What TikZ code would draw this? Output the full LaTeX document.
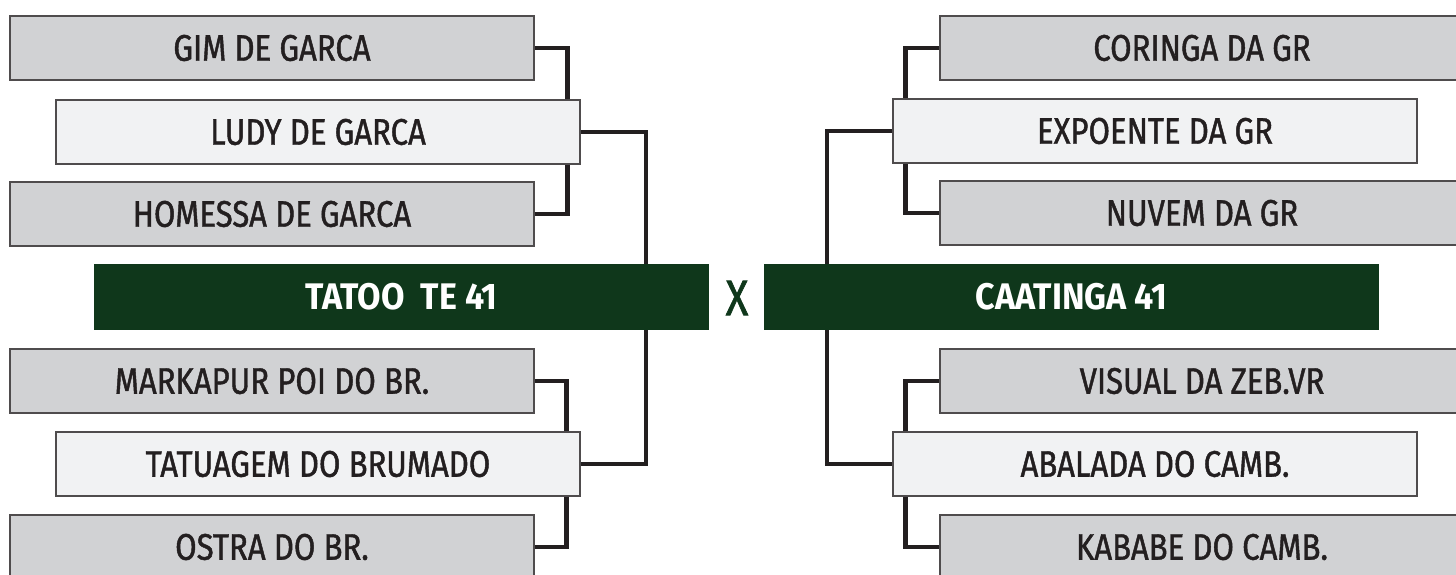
\documentclass[tikz,border=0pt]{standalone}
\usepackage{fontspec}
\setmainfont{Fira Sans}[FakeStretch=0.84, UprightFeatures={FakeBold=1.2}, BoldFeatures={FakeStretch=0.92}]
\usetikzlibrary{positioning, backgrounds}
\definecolor{boxgray}{HTML}{D1D2D4}
\definecolor{boxlight}{HTML}{F1F2F3}
\definecolor{bargreen}{HTML}{0F371B}
\definecolor{inkdark}{HTML}{231F20}

\begin{document}
\begin{tikzpicture}[
            x=1pt, y=-1pt,
            entry/.style = {rectangle, draw=inkdark!80, line width=1.1pt, fill=boxgray, minimum width=524pt, minimum height=64pt, inner sep=0pt, text=inkdark, font=\fontsize{37}{40}\selectfont},
            seed/.style = {entry, fill=boxlight},
            final/.style = {rectangle, fill=bargreen, minimum width=615pt, minimum height=66pt, inner sep=0pt, text=white, font=\fontsize{37}{40}\selectfont\bfseries},
            link/.style = {draw=inkdark, line width=4.7pt},
        ]
            \useasboundingbox (0,0) rectangle (1456,575);

            % Left bracket, upper group
            \node[entry] (gim) at (272,48) {GIM DE GARCA};
            \node[seed] (ludy) at (318,132) {LUDY DE GARCA};
            \node[entry] (homessa) at (272,214) {HOMESSA DE GARCA};

            % Left bracket, lower group
            \node[entry] (markapur) at (272,381) {MARKAPUR POI DO BR.};
            \node[seed] (tatuagem) at (318,464) {TATUAGEM DO BRUMADO};
            \node[entry] (ostra) at (272,547) {OSTRA DO BR.};

            % Right bracket, upper group
            \node[entry] (coringa) at (1202,48) {CORINGA DA GR};
            \node[seed] (expoente) at (1155,131) {EXPOENTE DA GR};
            \node[entry] (nuvem) at (1202,213) {NUVEM DA GR};

            % Right bracket, lower group
            \node[entry] (visual) at (1202,381) {VISUAL DA ZEB.VR};
            \node[seed] (abalada) at (1155,464) {ABALADA DO CAMB.};
            \node[entry] (kababe) at (1202,547) {KABABE DO CAMB.};

            % Finalists
            \node[final] (tatoo) at (401.5,297) {TATOO\ \ TE 41};
            \node[final] (caatinga) at (1071.5,297) {CAATINGA 41};
            \node[text=bargreen, font=\fontsize{50}{54}\selectfont] (versus) at (737,298) {X};

            % Bracket lines behind the boxes
            \coordinate (lfin) at (646,297);
            \coordinate (rfin) at (827,297);
            \begin{scope}[on background layer]
                \draw[link] (gim.east) -- ++(33,0) |- (homessa.east);
                \draw[link] (markapur.east) -- ++(32,0) |- (ostra.east);
                \draw[link] (ludy.east) -| (lfin) |- (tatuagem.east);
                \draw[link] (coringa.west) -- ++(-34,0) |- (nuvem.west);
                \draw[link] (visual.west) -- ++(-34,0) |- (kababe.west);
                \draw[link] (expoente.west) -| (rfin) |- (abalada.west);
            \end{scope}
        \end{tikzpicture}
\end{document}
